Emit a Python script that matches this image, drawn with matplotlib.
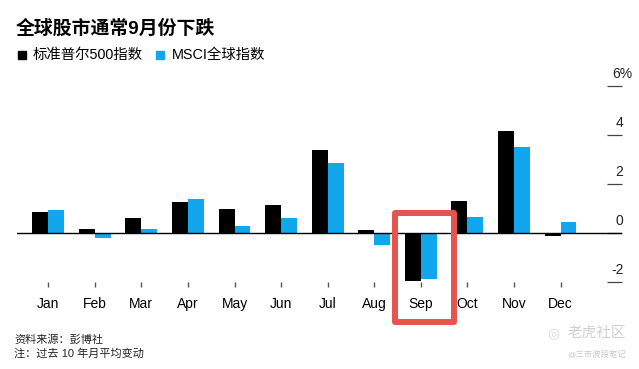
import matplotlib
matplotlib.use('Agg')
import matplotlib.pyplot as plt
from matplotlib.patches import Rectangle

plt.rcParams['font.family'] = ['Liberation Sans', 'Noto Sans CJK SC', 'DejaVu Sans']

months = ['Jan', 'Feb', 'Mar', 'Apr', 'May', 'Jun',
          'Jul', 'Aug', 'Sep', 'Oct', 'Nov', 'Dec']
sp500 = [0.85, 0.16, 0.6, 1.28, 0.97, 1.16, 3.37, 0.12, -1.95, 1.29, 4.18, -0.1]
msci = [0.95, -0.2, 0.15, 1.4, 0.29, 0.61, 2.87, -0.47, -1.87, 0.64, 3.52, 0.46]
yticks = [-2, 0, 2, 4, 6]
ytick_labels = ['-2', '0', '2', '4', '6%']
highlight = 'Sep'

black = '#000000'
blue = '#12A7EC'

fig = plt.figure(figsize=(6.39, 3.69), dpi=100)
ax = fig.add_axes([17 / 639, 0.2222, 605 / 639, 0.5846])

x = list(range(len(months)))
w = 0.343
ax.bar([i - w / 2 for i in x], sp500, width=w, color=black, zorder=2)
ax.bar([i + w / 2 for i in x], msci, width=w, color=blue, zorder=2)
ax.axhline(0, color='black', lw=1, zorder=3)

ax.set_xlim(-0.67, 12.32)
ax.set_ylim(-2.2, 6.6)

for s in ax.spines.values():
    s.set_visible(False)

ax.set_xticks(x)
ax.set_xticklabels(months, fontsize=10)
ax.tick_params(axis='x', direction='in', length=3.5, width=1, color='#555555', pad=7)

# y ticks: short dashes on the right, labels sit above them
ax.yaxis.tick_right()
ax.set_yticks(yticks)
ax.set_yticklabels([])
ax.tick_params(axis='y', direction='in', length=11, width=0.9, color='#444444')
for v, lab in zip(yticks, ytick_labels):
    ha = 'left' if lab.endswith('%') else 'right'
    xpos = 12.12 if lab.endswith('%') else 12.35
    ax.text(xpos, v + 0.2, lab, ha=ha, va='bottom', fontsize=10, color='#222222')

# red highlight box around September
si = months.index(highlight)
box = Rectangle((si - 0.55, -3.62), 1.26, 4.43, fill=False, edgecolor='#E5544F',
                lw=4.3, joinstyle='round', clip_on=False, zorder=4)
ax.add_patch(box)

fig.text(16 / 639, 1 - 29 / 369, '全球股市通常9月份下跌', fontsize=13.6,
         fontweight='heavy', va='center', ha='left')

fig.patches.append(Rectangle((18 / 639, 1 - 59 / 369), 8 / 639, 8 / 369,
                             color=black, transform=fig.transFigure, figure=fig))
fig.text(33 / 639, 1 - 54.5 / 369, '标准普尔500指数', fontsize=10.4, va='center')
fig.patches.append(Rectangle((156 / 639, 1 - 59 / 369), 8 / 639, 8 / 369,
                             color=blue, transform=fig.transFigure, figure=fig))
fig.text(172 / 639, 1 - 54.5 / 369, 'MSCI全球指数', fontsize=10.4, va='center')

fig.text(14 / 639, 1 - 339 / 369, '资料来源：彭博社', fontsize=8, va='center', color='#222222')
fig.text(14 / 639, 1 - 353 / 369, '注：过去 10 年月平均变动', fontsize=8, va='center', color='#222222')

# watermark
fig.text(626 / 639, 1 - 333 / 369, '老虎社区', fontsize=10.5, va='center', ha='right',
         color='#CFCFCF')
fig.text(553 / 639, 1 - 333 / 369, '◎', fontsize=10, va='center', ha='center',
         color='#D5D5D5', family='DejaVu Sans')
fig.text(626 / 639, 1 - 355 / 369, '@三市波段笔记', fontsize=6, va='center', ha='right',
         color='#C8C8C8')

fig.savefig('out.png', dpi=100)
